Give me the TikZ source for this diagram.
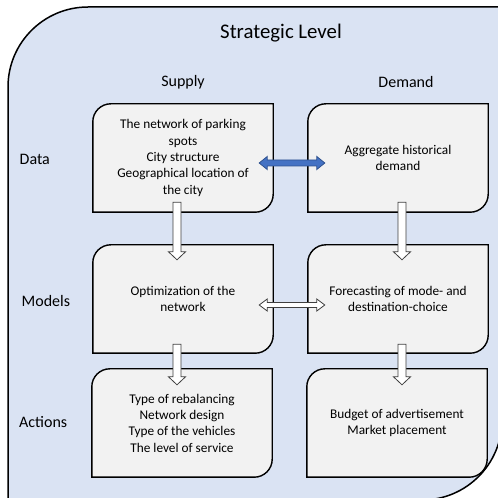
\documentclass[tikz,border=0pt]{standalone}
\usepackage{fontspec}
\setmainfont{Carlito}
\usetikzlibrary{calc}
\pgfdeclarelayer{panel}
\pgfdeclarelayer{cards}
\pgfsetlayers{panel,cards,main}

\definecolor{panelblue}{HTML}{DAE3F3}
\definecolor{cardgray}{HTML}{F2F2F2}
\definecolor{linkblue}{HTML}{4472C4}
\definecolor{linkblueedge}{HTML}{2F528F}
\definecolor{hollowedge}{HTML}{404040}

\tikzset{
  card/.style={minimum width=180pt, minimum height=108pt, inner sep=0pt,
    align=center, font=\fontsize{13.3}{16.3}\selectfont},
  cardline/.style={draw=black, line width=1.4pt, fill=cardgray},
  panelline/.style={draw=black, line width=1.5pt, fill=panelblue},
  rowlabel/.style={anchor=west, inner sep=0pt, font=\fontsize{16}{19}\selectfont},
  colhead/.style={inner sep=0pt, font=\fontsize{16}{19}\selectfont},
  titletext/.style={inner sep=0pt, font=\fontsize{20.8}{24}\selectfont},
  hollowarrow/.style={draw=hollowedge, line width=0.8pt, fill=white, line join=miter},
  bluearrow/.style={draw=linkblueedge, line width=0.8pt, fill=linkblue, line join=miter},
}

% card outline: rounded top-left and bottom-right corners
\newcommand\cardoutline[1]{%
  \begin{pgfonlayer}{cards}
    \draw[cardline] (#1.south west) -- ($(#1.north west)+(0,-18)$)
      arc[start angle=180, end angle=90, radius=18pt] -- (#1.north east)
      -- ($(#1.south east)+(0,18)$)
      arc[start angle=0, end angle=-90, radius=18pt] -- cycle;
  \end{pgfonlayer}}

% block arrow pointing down, from #1 to the tip #2
\newcommand\downblock[3]{%
  \draw[#3] ($(#1)+(-4,0)$) -- ($(#2)+(-4,8)$) -- ($(#2)+(-8.5,8)$) -- (#2)
    -- ($(#2)+(8.5,8)$) -- ($(#2)+(4,8)$) -- ($(#1)+(4,0)$) -- cycle;}

% two-headed block arrow between tips #1 (left) and #2 (right);
% #4 half shaft width, #5 half head width
\newcommand\twowayblock[5]{%
  \draw[#3] (#1) -- ($(#1)+(8,#5)$) -- ($(#1)+(8,#4)$) -- ($(#2)+(-8,#4)$)
    -- ($(#2)+(-8,#5)$) -- (#2) -- ($(#2)+(-8,-#5)$) -- ($(#2)+(-8,-#4)$)
    -- ($(#1)+(8,-#4)$) -- ($(#1)+(8,-#5)$) -- cycle;}

\begin{document}
\begin{tikzpicture}[x=1pt, y=1pt]
  \useasboundingbox (0,0) rectangle (498,498);
  \clip (0,0) rectangle (498,498);

  % outer panel
  \begin{pgfonlayer}{panel}
    \draw[panelline] (8,-2) -- (8,411) arc[start angle=180, end angle=90, radius=80pt]
      -- (502,491) -- (502,78) arc[start angle=0, end angle=-90, radius=80pt] -- cycle;
  \end{pgfonlayer}

  % headings
  \node[titletext] (title) at (281,465) {Strategic Level};
  \node[colhead] (supply) at (183,416) {Supply};
  \node[colhead] (demand) at (406,416) {Demand};

  % cards
  \node[card] (sdata) at (183,340) {The network of parking\\spots\\City structure\\Geographical location of\\the city};
  \node[card] (ddata) at (398,340) {Aggregate historical\\demand};
  \node[card] (smodel) at (183,199) {Optimization of the\\network};
  \node[card] (dmodel) at (398,199) {Forecasting of mode- and\\destination-choice};
  \node[card] (saction) at (182,75) {Type of rebalancing\\Network design\\Type of the vehicles\\The level of service};
  \node[card] (daction) at (397,75) {Budget of advertisement\\Market placement};
  \foreach \c in {sdata,ddata,smodel,dmodel,saction,daction} {\cardoutline{\c}}

  % row labels
  \node[rowlabel] (ldata) at (19.5,339) {Data};
  \node[rowlabel] (lmodel) at (21.5,197) {Models};
  \node[rowlabel] (laction) at (19,76) {Actions};

  % connectors
  \coordinate (sd-top) at ($(sdata.south)+(-6,10)$);
  \coordinate (sm-tip) at ($(smodel.north)+(-6,-15)$);
  \coordinate (dd-top) at ($(ddata.south)+(4,10)$);
  \coordinate (dm-tip) at ($(dmodel.north)+(4,-15)$);
  \coordinate (sm-top) at ($(smodel.south)+(-6,9)$);
  \coordinate (sa-tip) at ($(saction.north)+(-5,-16)$);
  \coordinate (dm-top) at ($(dmodel.south)+(4,9)$);
  \coordinate (da-tip) at ($(daction.north)+(5,-16)$);
  \downblock{sd-top}{sm-tip}{hollowarrow}
  \downblock{dd-top}{dm-tip}{hollowarrow}
  \downblock{sm-top}{sa-tip}{hollowarrow}
  \downblock{dm-top}{da-tip}{hollowarrow}

  \coordinate (dl-left) at ($(sdata.east)+(-14,-5)$);
  \coordinate (dl-right) at ($(ddata.west)+(17,-5)$);
  \twowayblock{dl-left}{dl-right}{bluearrow}{3}{6.5}
  \coordinate (ml-left) at ($(smodel.east)+(-14,-6)$);
  \coordinate (ml-right) at ($(dmodel.west)+(17,-6)$);
  \twowayblock{ml-left}{ml-right}{hollowarrow}{2.5}{6}
\end{tikzpicture}
\end{document}
